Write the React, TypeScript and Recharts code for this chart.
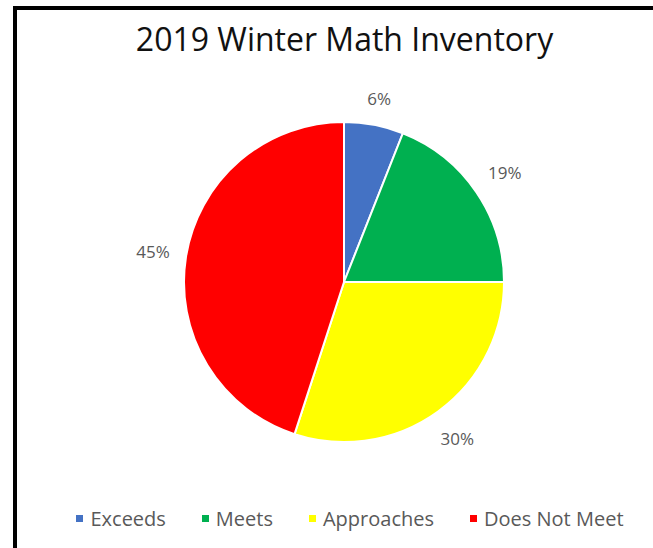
import { PieChart, Pie, Cell, Legend } from "recharts";

// 2019 Winter Math Inventory – share of students per performance band.

const categories = ["Exceeds", "Meets", "Approaches", "Does Not Meet"];
const shares = [6, 19, 30, 45];
const colors = ["#4472C4", "#00B050", "#FFFF00", "#FF0000"];

const data = categories.map((name, i) => ({ name, value: shares[i] }));

const FONT = '"Open Sans", sans-serif';
const LABEL_GRAY = "#595959";
const RAD = Math.PI / 180;
const LABEL_SIZE = 17;

// Excel-style "outside end": the label box sits a fixed gap off the rim,
// so its centre moves out by half the box extent along the slice direction.
function renderLabel(props: any) {
  const { cx, cy, midAngle, outerRadius, value } = props;
  const text = `${value}%`;
  const cos = Math.cos(-midAngle * RAD);
  const sin = Math.sin(-midAngle * RAD);
  const w = text.length * 0.6 * LABEL_SIZE;
  const h = LABEL_SIZE;
  const r = outerRadius + 17 + Math.abs(cos) * (w / 2) + Math.abs(sin) * (h / 2);
  return (
    <text
      x={cx + r * cos}
      y={cy + r * sin}
      textAnchor="middle"
      dominantBaseline="central"
      fill={LABEL_GRAY}
      fontSize={LABEL_SIZE}
      fontFamily={FONT}
    >
      {text}
    </text>
  );
}

function LegendRow() {
  return (
    <div
      style={{
        display: "flex",
        justifyContent: "center",
        gap: 36,
        fontFamily: FONT,
        fontSize: 20,
        color: LABEL_GRAY,
      }}
    >
      {categories.map((c, i) => (
        <span key={c} style={{ display: "flex", alignItems: "center", gap: 7 }}>
          <span style={{ width: 7, height: 7, background: colors[i] }} />
          {c}
        </span>
      ))}
    </div>
  );
}

export default function App() {
  return (
    <div
      style={{
        position: "absolute",
        left: 0,
        top: 0,
        width: 653,
        height: 548,
        background: "#fff",
        overflow: "hidden",
      }}
    >
      <div
        style={{
          position: "absolute",
          left: 13,
          top: 6,
          width: 700,
          height: 600,
          borderLeft: "4px solid #000",
          borderTop: "4px solid #000",
        }}
      />
      <div
        style={{
          position: "absolute",
          left: 0,
          top: 23,
          width: 689,
          textAlign: "center",
          fontFamily: FONT,
          fontSize: 32,
          lineHeight: "32px",
          color: "#111",
        }}
      >
        2019 Winter Math Inventory
      </div>
      <div style={{ position: "absolute", left: 0, top: 0 }}>
        <PieChart
          width={653}
          height={548}
          margin={{ top: 0, right: 0, bottom: 0, left: 0 }}
        >
          <Pie
            data={data}
            dataKey="value"
            nameKey="name"
            cx={344}
            cy={282}
            outerRadius={160}
            startAngle={90}
            endAngle={-270}
            stroke="#fff"
            strokeWidth={2}
            label={renderLabel}
            labelLine={false}
            isAnimationActive={false}
          >
            {data.map((d, i) => (
              <Cell key={d.name} fill={colors[i]} />
            ))}
          </Pie>
          <Legend
            content={() => <LegendRow />}
            wrapperStyle={{ left: 0, top: 505, width: 700 }}
          />
        </PieChart>
      </div>
    </div>
  );
}
